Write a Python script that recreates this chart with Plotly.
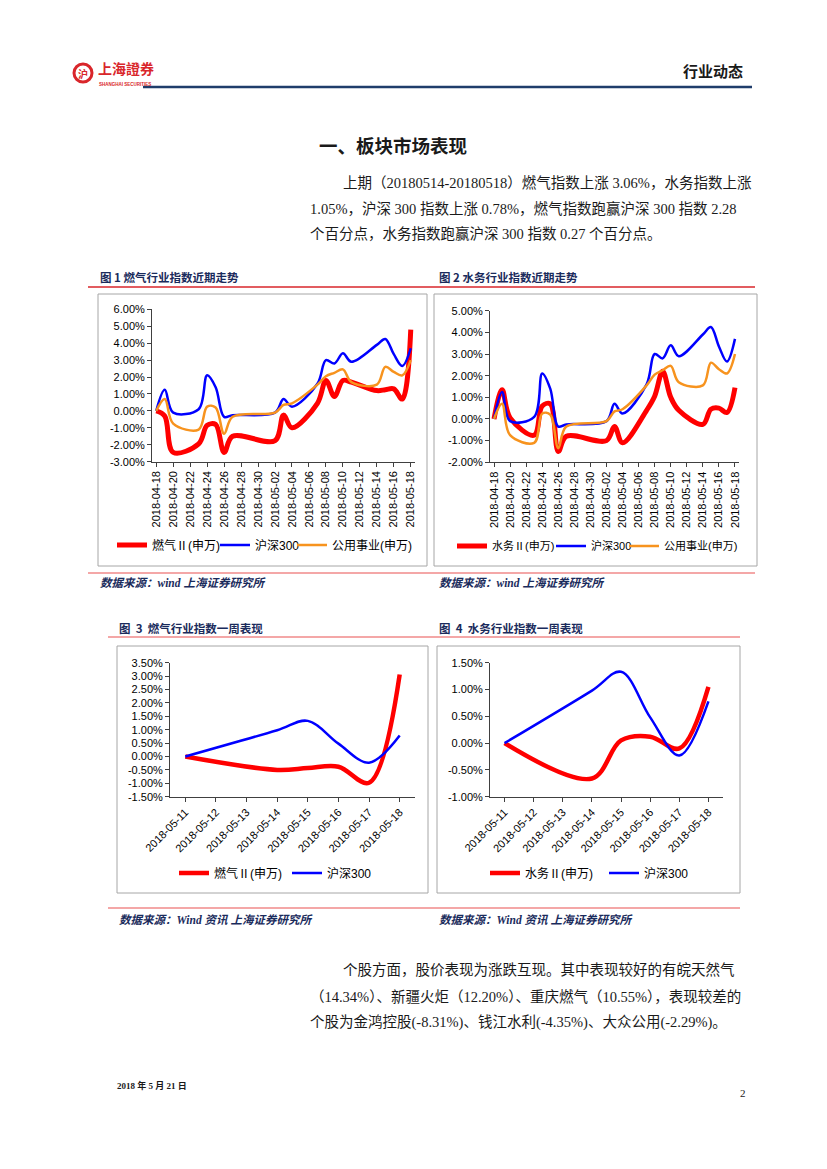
import plotly.graph_objects as go

W, H = 827, 1169

# ---------------- data ----------------
month_dates = ["2018-04-18", "2018-04-19", "2018-04-20", "2018-04-23", "2018-04-24", "2018-04-25",
               "2018-04-26", "2018-04-27", "2018-05-02", "2018-05-03", "2018-05-04", "2018-05-07",
               "2018-05-08", "2018-05-09", "2018-05-10", "2018-05-11", "2018-05-14", "2018-05-15",
               "2018-05-16", "2018-05-17", "2018-05-18"]
gas_month = [0, -0.3, -2.45, -1.95, -0.85, -0.8, -2.45, -1.5, -1.75, -0.25, -1.0, 0.45,
             1.8, 0.85, 1.8, 1.7, 1.2, 1.25, 1.3, 0.7, 4.8]
water_month = [0, 1.35, 0.05, -0.75, 0.6, 0.7, -1.5, -0.8, -1.0, -0.35, -1.1, 0.4,
               1.05, 2.2, 1.0, 0.4, -0.25, 0.45, 0.5, 0.3, 1.45]
hs300_month = [0, 1.25, -0.1, 0.1, 2.1, 1.4, -0.35, -0.25, -0.1, 0.7, 0.25, 1.6,
               3.0, 2.8, 3.4, 2.9, 3.9, 4.25, 3.35, 2.65, 3.7]
utility_month = [0, 0.7, -0.75, -1.1, 0.25, 0.2, -1.35, -0.35, -0.1, 0.35, 0.45, 1.55,
                 2.05, 2.25, 2.45, 1.7, 1.55, 2.6, 2.3, 2.1, 3.0]

week_dates = ["2018-05-11", "2018-05-14", "2018-05-15", "2018-05-16", "2018-05-17", "2018-05-18"]
gas_week = [0, -0.5, -0.43, -0.38, -0.98, 3.06]
water_week = [0, -0.66, 0.05, 0.12, -0.1, 1.05]
hs300_week = [0, 0.98, 1.33, 0.48, -0.23, 0.78]

yticks_1 = [-3, -2, -1, 0, 1, 2, 3, 4, 5, 6]
yticks_2 = [-2, -1, 0, 1, 2, 3, 4, 5]
yticks_3 = [-1.5, -1.0, -0.5, 0, 0.5, 1.0, 1.5, 2.0, 2.5, 3.0, 3.5]
yticks_4 = [-1.0, -0.5, 0, 0.5, 1.0, 1.5]

name_gas = "燃气Ⅱ(申万)"
name_water = "水务Ⅱ(申万)"
name_hs = "沪深300"
name_util = "公用事业(申万)"

RED = "#FF0000"
BLUE = "#0000FF"
ORANGE = "#F7931E"
NAVY = "#1A2B5C"

CHART_FONT = "Liberation Sans, Arial, Noto Sans CJK SC"
CJK_SANS = "Noto Sans CJK SC"
SERIF = "Liberation Serif, Noto Sans CJK SC"


def X(px):
    return px / W


def Y(py):
    return 1 - py / H


fig = go.Figure()

# ---------------- traces ----------------
def add(x, y, name, color, width, ax, legend):
    fig.add_trace(go.Scatter(
        x=x, y=y, name=name, mode="lines",
        line=dict(color=color, width=width, shape="spline", smoothing=1.0),
        xaxis=ax[0], yaxis=ax[1], legend=legend, hoverinfo="skip"))


add(month_dates, gas_month, name_gas, RED, 5, ("x", "y"), "legend")
add(month_dates, hs300_month, name_hs, BLUE, 2.5, ("x", "y"), "legend2")
add(month_dates, utility_month, name_util, ORANGE, 2.5, ("x", "y"), "legend3")

add(month_dates, water_month, name_water, RED, 5, ("x2", "y2"), "legend4")
add(month_dates, hs300_month, name_hs, BLUE, 2.5, ("x2", "y2"), "legend5")
add(month_dates, utility_month, name_util, ORANGE, 2.5, ("x2", "y2"), "legend6")

add(week_dates, gas_week, name_gas, RED, 4.5, ("x3", "y3"), "legend7")
add(week_dates, hs300_week, name_hs, BLUE, 2.5, ("x3", "y3"), "legend8")

add(week_dates, water_week, name_water, RED, 4.5, ("x4", "y4"), "legend9")
add(week_dates, hs300_week, name_hs, BLUE, 2.5, ("x4", "y4"), "legend10")

# ---------------- axes ----------------
DAY = 86400000


def xaxis(dom, rng, t0, dtick, angle, anchor):
    return dict(domain=[X(dom[0]), X(dom[1])], type="date", range=rng, dtick=dtick,
                tick0=t0, tickformat="%Y-%m-%d", tickangle=angle, anchor=anchor,
                automargin=False,
                showline=True, linecolor="#404040", linewidth=1, ticks="outside",
                ticklen=4, tickcolor="#404040", showgrid=False, zeroline=False,
                tickfont=dict(family=CHART_FONT, size=11, color="#000000"))


def yaxis(dom, rng, vals, anchor):
    return dict(domain=[Y(dom[1]), Y(dom[0])], range=rng, tickvals=vals,
                ticktext=[f"{v:.2f}%" for v in vals], anchor=anchor,
                automargin=False,
                showline=True, linecolor="#404040", linewidth=1, ticks="outside",
                ticklen=4, tickcolor="#404040", showgrid=False, zeroline=False,
                tickfont=dict(family=CHART_FONT, size=11, color="#000000"))


fig.update_layout(
    xaxis=xaxis((152, 415), ["2018-04-17 12:00", "2018-05-18 12:00"], "2018-04-18", 2 * DAY, -90, "y"),
    yaxis=yaxis((309.3, 461.7), [-3, 6], yticks_1, "x"),
    xaxis2=xaxis((490, 739), ["2018-04-17 12:00", "2018-05-18 12:00"], "2018-04-18", 2 * DAY, -90, "y2"),
    yaxis2=yaxis((310.7, 462.3), [-2, 5], yticks_2, "x2"),
    xaxis3=xaxis((170, 415), ["2018-05-10 12:00", "2018-05-18 12:00"], "2018-05-11", DAY, -45, "y3"),
    yaxis3=yaxis((662.7, 796.7), [-1.5, 3.5], yticks_3, "x3"),
    xaxis4=xaxis((490, 723), ["2018-05-10 12:00", "2018-05-18 12:00"], "2018-05-11", DAY, -45, "y4"),
    yaxis4=yaxis((662.7, 796.7), [-1.0, 1.5], yticks_4, "x4"),
)

# ---------------- legends ----------------
legend_pos = {
    "legend": (112, 545, 12), "legend2": (215, 545, 12), "legend3": (292, 545, 12),
    "legend4": (452, 546, 11), "legend5": (551, 546, 11), "legend6": (624, 546, 11),
    "legend7": (174, 873, 12), "legend8": (287, 873, 12),
    "legend9": (485, 873, 12), "legend10": (604, 873, 12),
}
for key, (lx, ly, fs) in legend_pos.items():
    fig.layout[key] = dict(x=X(lx), y=Y(ly), xanchor="left", yanchor="middle",
                           orientation="h", bgcolor="rgba(0,0,0,0)", borderwidth=0,
                           font=dict(family=CHART_FONT, size=fs, color="#000000"),
                           tracegroupgap=0)

# ---------------- shapes ----------------
shapes = []


def rect(x0, y0, x1, y1, color="#A6A6A6", w=1):
    shapes.append(dict(type="rect", xref="paper", yref="paper", x0=X(x0), x1=X(x1),
                       y0=Y(y1), y1=Y(y0), line=dict(color=color, width=w),
                       fillcolor="rgba(0,0,0,0)", layer="below"))


def hline(x0, x1, y, color, w):
    shapes.append(dict(type="line", xref="paper", yref="paper", x0=X(x0), x1=X(x1),
                       y0=Y(y), y1=Y(y), line=dict(color=color, width=w)))


rect(98, 294, 427, 566)
rect(434, 294, 757, 566)
rect(117, 646, 428, 893)
rect(437, 646, 740, 893)

hline(143, 752, 87, "#1F3D6B", 2.5)
hline(88, 755, 287, "#D9262B", 1.5)
hline(88, 755, 573, "#F08A8A", 1.5)
hline(108, 740, 637, "#F08A8A", 1.5)
hline(108, 740, 908, "#F08A8A", 1.5)

shapes.append(dict(type="circle", xref="paper", yref="paper", x0=X(74), x1=X(92), y0=Y(82), y1=Y(64),
                   line=dict(color="#D9262B", width=3)))
fig.update_layout(shapes=shapes)

# ---------------- text ----------------
ann = []


def text(px, py, s, size, family, color="#000000", bold=False, italic=False, anchor="left"):
    if bold:
        s = f"<b>{s}</b>"
    if italic:
        s = f"<i>{s}</i>"
    ann.append(dict(x=X(px), y=Y(py), xref="paper", yref="paper", text=s, showarrow=False,
                    xanchor=anchor, yanchor="middle",
                    font=dict(family=family, size=size, color=color)))


text(83, 73.5, "沪", 10, CJK_SANS, "#D9262B", bold=True, anchor="center")
text(96, 68, "上海證券", 14, CJK_SANS, "#D9262B", bold=True)
text(97, 84, "SHANGHAI SECURITIES", 4.5, CHART_FONT, "#D9262B", bold=True)
text(745, 70, "行业动态", 15, CJK_SANS, "#1A1A1A", bold=True, anchor="right")

text(393, 145, "一、板块市场表现", 18.5, CJK_SANS, "#1A1A1A", bold=True, anchor="center")

text(341, 183, "上期（20180514-20180518）燃气指数上涨 3.06%，水务指数上涨", 14.5, SERIF, "#1A1A1A")
text(308, 208, "1.05%，沪深 300 指数上涨 0.78%，燃气指数跑赢沪深 300 指数 2.28", 14.5, SERIF, "#1A1A1A")
text(308, 234, "个百分点，水务指数跑赢沪深 300 指数 0.27 个百分点。", 14.5, SERIF, "#1A1A1A")

text(98, 277, "图 1 燃气行业指数近期走势", 11.5, CJK_SANS, NAVY, bold=True)
text(437, 277, "图 2 水务行业指数近期走势", 11.5, CJK_SANS, NAVY, bold=True)
text(98, 583, "数据来源：wind 上海证券研究所", 11.5, SERIF, NAVY, bold=True, italic=True)
text(437, 583, "数据来源：wind 上海证券研究所", 11.5, SERIF, NAVY, bold=True, italic=True)

text(117, 628, "图  3  燃气行业指数一周表现", 11.5, CJK_SANS, NAVY, bold=True)
text(437, 628, "图  4  水务行业指数一周表现", 11.5, CJK_SANS, NAVY, bold=True)
text(117, 920, "数据来源：Wind 资讯 上海证券研究所", 11.5, SERIF, NAVY, bold=True, italic=True)
text(437, 920, "数据来源：Wind 资讯 上海证券研究所", 11.5, SERIF, NAVY, bold=True, italic=True)

text(341, 969, "个股方面，股价表现为涨跌互现。其中表现较好的有皖天然气", 14.5, SERIF, "#1A1A1A")
text(308, 996, "（14.34%）、新疆火炬（12.20%）、重庆燃气（10.55%），表现较差的", 14.5, SERIF, "#1A1A1A")
text(308, 1022, "个股为金鸿控股(-8.31%)、钱江水利(-4.35%)、大众公用(-2.29%)。", 14.5, SERIF, "#1A1A1A")

text(115, 1085, "2018 年 5 月 21 日", 9, SERIF, "#1A1A1A", bold=True)
text(748, 1093, "2", 11, SERIF, "#1A1A1A", anchor="right")

fig.update_layout(annotations=ann)

fig.update_layout(width=W, height=H,
                  margin=dict(l=0, r=0, t=0, b=0, pad=0, autoexpand=False),
                  paper_bgcolor="white", plot_bgcolor="white", showlegend=True)

fig.write_html(
    "out.html",
    config={"displayModeBar": False},
    post_script="document.body.style.margin='0';document.body.style.padding='0';"
                "document.documentElement.style.overflow='hidden';",
)
